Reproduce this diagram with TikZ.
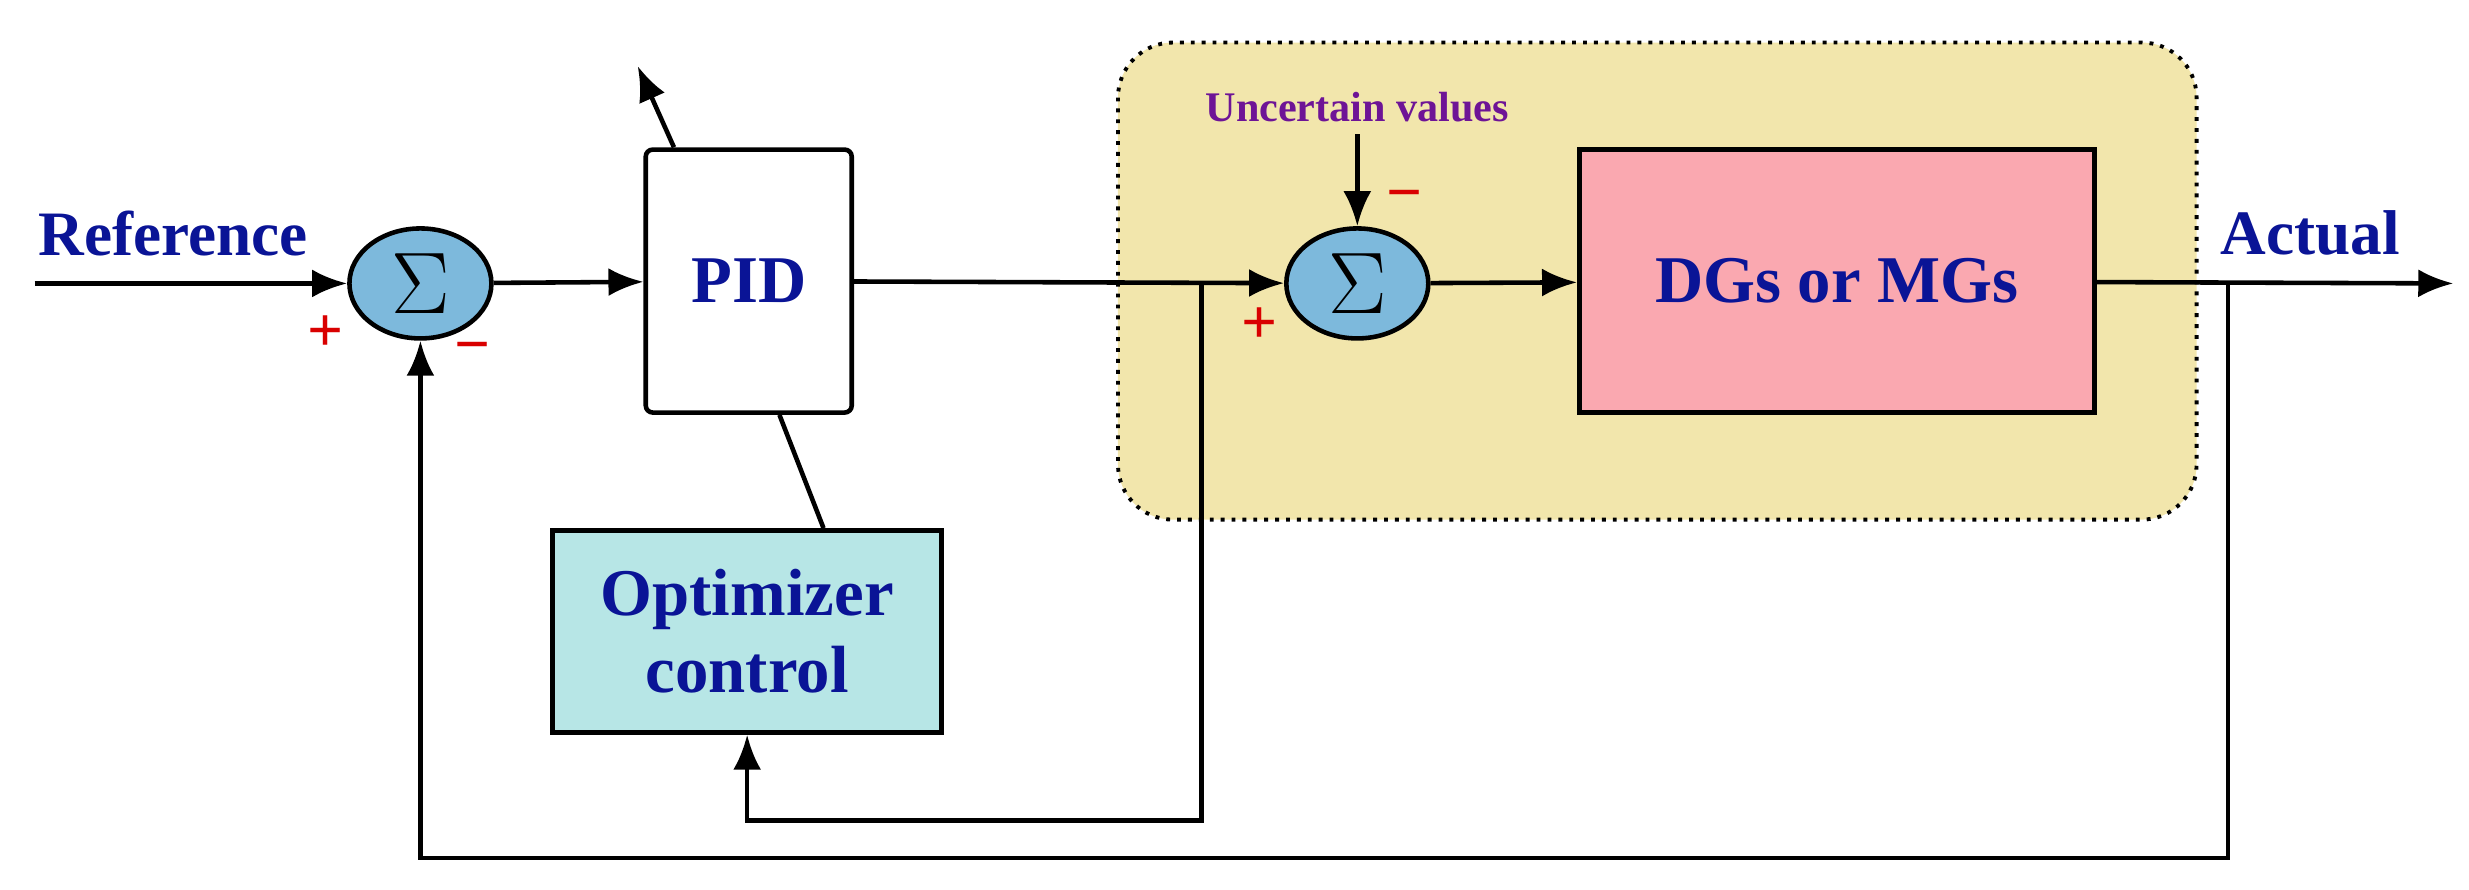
\documentclass[tikz,border=0pt]{standalone}
\usepackage{fontspec}
\setmainfont{Liberation Serif}
\usetikzlibrary{arrows.meta,shapes.geometric}

\definecolor{txtblue}{RGB}{10,20,150}
\definecolor{sumfill}{RGB}{125,185,220}
\definecolor{optfill}{RGB}{183,230,230}
\definecolor{plantfill}{RGB}{250,168,176}
\definecolor{zonefill}{RGB}{242,230,172}
\definecolor{uncolor}{RGB}{110,20,150}

\tikzset{
    sumnode/.style={ellipse, draw, line width=1.3pt, fill=sumfill,
        minimum width=1.42cm, minimum height=1.1cm, inner sep=0pt,
        font=\fontsize{26}{26}\selectfont},
    block/.style={draw, line width=1.3pt, align=center, text=txtblue,
        font=\fontsize{19}{22}\selectfont\bfseries},
    label/.style={text=txtblue, font=\fontsize{18}{20}\selectfont\bfseries},
    sign/.style={text=red!85!black, font=\fontsize{18}{18}\selectfont\bfseries},
    wire/.style={line width=1.3pt, -{Latex[length=3.5mm,width=2.8mm]}},
    plain/.style={line width=1.3pt},
}

\begin{document}
\begin{tikzpicture}[x=0.01575cm, y=-0.01575cm]

\useasboundingbox (0,0) rectangle (1568,565);

% shaded zone around the plant
\draw[dotted, line width=1.1pt, fill=zonefill, rounded corners=0.55cm]
    (710,27) rectangle (1395,330);

% blocks
\node[sumnode] (sumA) at (267,180) {$\Sigma$};
\node[sumnode] (sumB) at (862,180) {$\Sigma$};
\node[block, fill=white, rounded corners=2pt, minimum width=2.06cm, minimum height=2.63cm]
    (pid) at (475.5,178.5) {PID};
\node[block, fill=optfill, minimum width=3.89cm, minimum height=2.02cm]
    (opt) at (474.5,401) {Optimizer\\control};
\node[block, fill=plantfill, minimum width=5.15cm, minimum height=2.63cm]
    (plant) at (1166.5,178.5) {DGs or MGs};

% texts
\node[label] (ref) at (110,148) {Reference};
\node[label] (act) at (1467,148) {Actual};
\node[text=uncolor, font=\fontsize{12}{14}\selectfont\bfseries] (unc) at (862,68) {Uncertain values};
\node[sign] at (207,212) {+};
\node[sign] at (300,225) {\textminus};
\node[sign] at (800,207) {+};
\node[sign] at (892,128) {\textminus};

\coordinate (in) at (22,180);
\coordinate (out) at (1558,180);
\coordinate (tapA) at (763,180);
\coordinate (tapB) at (1415,180);
\coordinate (tune) at (405,42);

% forward path
\draw[wire] (in) -- (sumA);
\draw[wire] (sumA) -- (pid);
\draw[wire] (pid) -- (sumB);
\draw[wire] (sumB) -- (plant);
\draw[wire] (plant) -- (out);
\draw[wire] (unc) -- (sumB);

% tuning line through PID
\draw[plain] (opt.north -| 523,0) -- (pid.south -| 495,0);
\draw[wire] (pid.north -| 428,0) -- (tune);

% feedback paths
\draw[wire] (tapA) -- (763,521) -| (opt.south);
\draw[wire] (tapB) -- (1415,545) -| (sumA.south);

\end{tikzpicture}
\end{document}
